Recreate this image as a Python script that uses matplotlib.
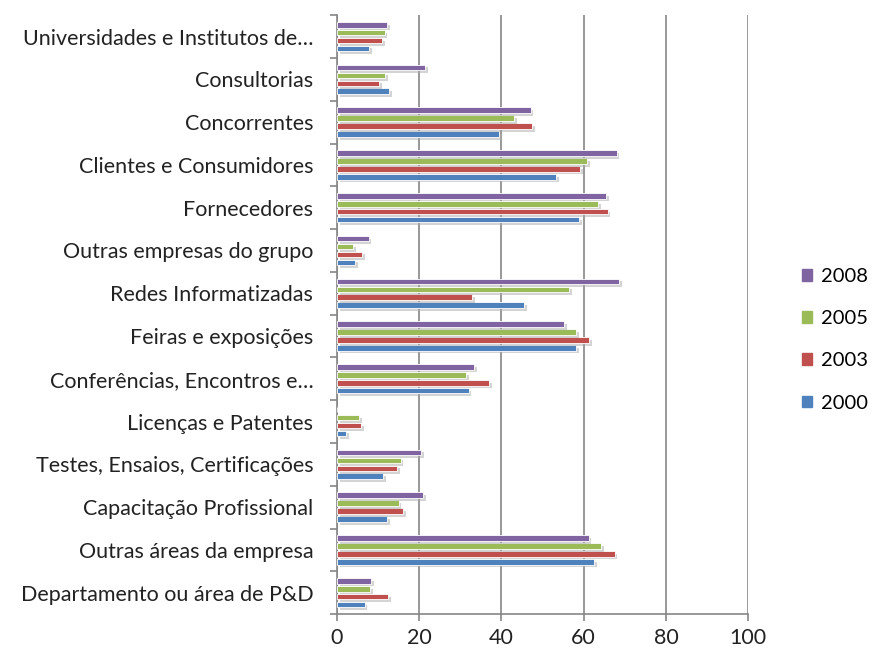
import numpy as np
import matplotlib.pyplot as plt
import matplotlib.patheffects as pe
from matplotlib.patches import Patch

# categories listed bottom to top
categories = [
    "Departamento ou área de P&D",
    "Outras áreas da empresa",
    "Capacitação Profissional",
    "Testes, Ensaios, Certificações",
    "Licenças e Patentes",
    "Conferências, Encontros e…",
    "Feiras e exposições",
    "Redes Informatizadas",
    "Outras empresas do grupo",
    "Fornecedores",
    "Clientes e Consumidores",
    "Concorrentes",
    "Consultorias",
    "Universidades e Institutos de…",
]

years = ["2000", "2003", "2005", "2008"]
v2000 = [6.7, 62.5, 12.1, 11.2, 2.3, 32.0, 58.1, 45.5, 4.5, 58.9, 53.2, 39.5, 12.6, 7.8]
v2003 = [12.5, 67.5, 16.0, 14.6, 5.9, 37.0, 61.4, 32.8, 6.1, 65.8, 59.2, 47.5, 10.3, 10.9]
v2005 = [8.1, 64.3, 15.0, 15.5, 5.3, 31.4, 58.1, 56.5, 3.9, 63.5, 60.8, 43.1, 11.8, 11.6]
v2008 = [8.3, 61.2, 21.0, 20.5, 0.0, 33.4, 55.3, 68.6, 7.7, 65.5, 68.0, 47.1, 21.4, 12.1]
series = [v2000, v2003, v2005, v2008]
colors = ["#4F81BD", "#C0504D", "#9BBB59", "#8064A2"]

plt.rcParams["font.family"] = ["Lato", "DejaVu Sans"]

fig = plt.figure(figsize=(8.73, 6.61), dpi=100)
ax = fig.add_axes([0.386, 0.071, 0.471, 0.906])

y = np.arange(len(categories))
step = 0.185
height = 0.13
shadow = [pe.SimplePatchShadow(offset=(2, -2), shadow_rgbFace="#aaaaaa", alpha=0.5), pe.Normal()]

for i, (vals, col, yr) in enumerate(zip(series, colors, years)):
    offset = (i - 1.5) * step
    bars = ax.barh(y + offset, vals, height=height, color=col, edgecolor="white",
                   linewidth=0.6, label=yr, zorder=3)
    for b in bars:
        b.set_path_effects(shadow)

ax.set_xlim(0, 100)
ax.set_ylim(-0.5, len(categories) - 0.5)
ax.set_xticks(np.arange(0, 101, 20))
ax.set_yticks(y)
ax.set_yticklabels(categories)
ax.set_yticks(np.arange(-0.5, len(categories), 1), minor=True)

# grid and spines
ax.grid(True, axis="x", color="#868686", linewidth=1.2, zorder=0)
for s in ["top", "right"]:
    ax.spines[s].set_visible(False)
for s in ["left", "bottom"]:
    ax.spines[s].set_color("#868686")
    ax.spines[s].set_linewidth(1.2)

ax.tick_params(axis="y", which="major", length=0, pad=17, labelsize=15.5, colors="#222222")
ax.tick_params(axis="y", which="minor", length=5, color="#868686", width=1.2)
ax.tick_params(axis="x", which="major", length=5, color="#868686", width=1.2,
               pad=5, labelsize=15.5, labelcolor="#222222")

# legend, newest year on top
handles = [Patch(color=c, label=yr) for c, yr in zip(colors, years)][::-1]
fig.legend(handles=handles, loc="center left", bbox_to_anchor=(0.903, 0.486),
           frameon=False, fontsize=14.5, handlelength=0.5, handleheight=0.5,
           handletextpad=0.4, labelspacing=1.25, borderpad=0.2)

fig.savefig("out.png", dpi=100)
